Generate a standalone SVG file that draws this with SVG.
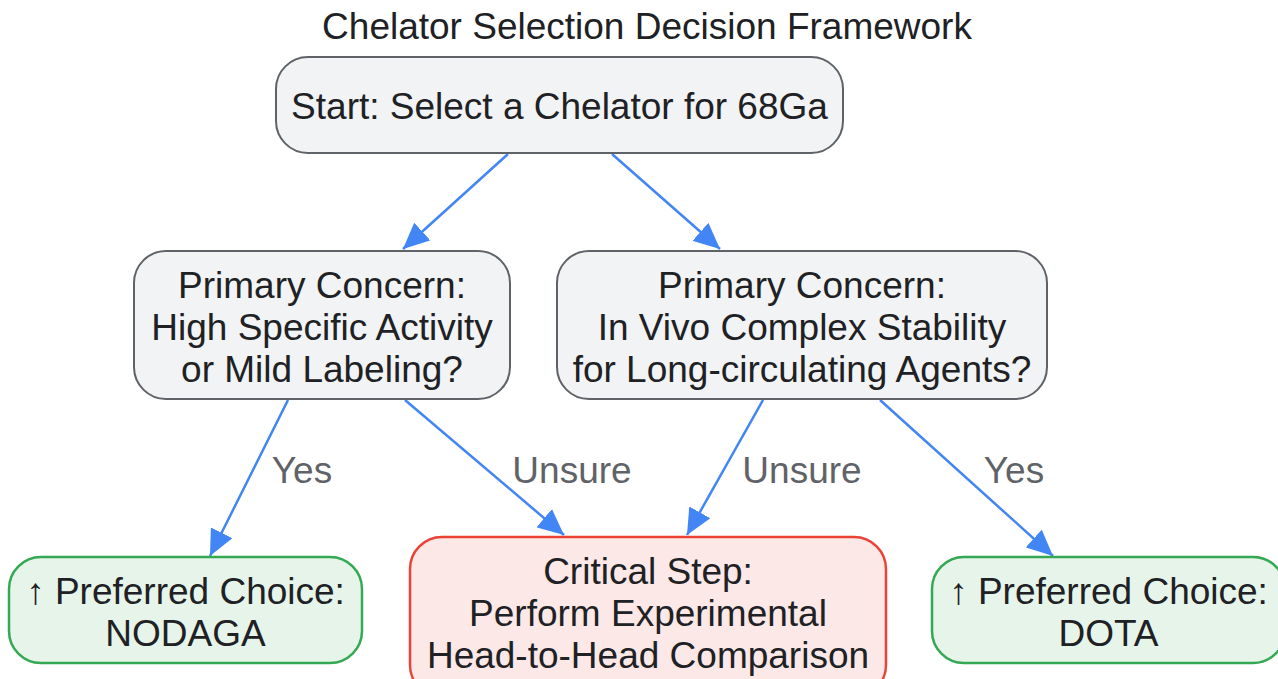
<svg xmlns="http://www.w3.org/2000/svg" width="1278" height="679" viewBox="0 0 1278 679">
<style>
text{font-family:"Liberation Sans",Arial,sans-serif;text-anchor:middle}
.t{font-size:37px;fill:#202124}
.ttl{font-size:37px;fill:#202124}
.lbl{font-size:37px;fill:#5f6368}
.n{fill:#f1f3f4;stroke:#5f6368;stroke-width:2}
.g{fill:#e6f4ea;stroke:#34a853;stroke-width:2.5}
.r{fill:#fce8e6;stroke:#ea4335;stroke-width:2.5}
.e{stroke:#4285f4;stroke-width:2.5;fill:none;marker-end:url(#ah)}
</style>
<defs>
<marker id="ah" markerUnits="userSpaceOnUse" markerWidth="28" markerHeight="24" refX="26" refY="12" orient="auto">
<path d="M0,0 L26,12 L0,24 Z" fill="#4285f4"/>
</marker>
</defs>
<rect width="1278" height="679" fill="#ffffff"/>
<text class="ttl" x="647" y="39">Chelator Selection Decision Framework</text>
<g id="edges">
<line class="e" x1="508" y1="154" x2="403" y2="249"/>
<line class="e" x1="612" y1="154" x2="720" y2="249"/>
<line class="e" x1="288" y1="400" x2="210" y2="556"/>
<line class="e" x1="405" y1="400" x2="564" y2="535"/>
<line class="e" x1="763" y1="400" x2="687" y2="535"/>
<line class="e" x1="880" y1="400" x2="1053" y2="556"/>
<text class="lbl" x="302" y="483">Yes</text>
<text class="lbl" x="572" y="483">Unsure</text>
<text class="lbl" x="802" y="483">Unsure</text>
<text class="lbl" x="1014" y="483">Yes</text>
</g>
<g id="start">
<rect class="n" x="276" y="57" width="567" height="96" rx="32"/>
<text class="t" x="559.5" y="119">Start: Select a Chelator for 68Ga</text>
</g>
<g id="q1">
<rect class="n" x="134" y="251" width="376" height="148" rx="32"/>
<text class="t" x="322" y="298">Primary Concern:</text>
<text class="t" x="322" y="340">High Specific Activity</text>
<text class="t" x="322" y="382">or Mild Labeling?</text>
</g>
<g id="q2">
<rect class="n" x="557" y="251" width="490" height="148" rx="32"/>
<text class="t" x="802" y="298">Primary Concern:</text>
<text class="t" x="802" y="340">In Vivo Complex Stability</text>
<text class="t" x="802" y="382">for Long-circulating Agents?</text>
</g>
<g id="nodaga">
<rect class="g" x="9" y="557" width="353" height="106" rx="32"/>
<text class="t" x="185.5" y="604">↑ Preferred Choice:</text>
<text class="t" x="185.5" y="646">NODAGA</text>
</g>
<g id="critical">
<rect class="r" x="410" y="537" width="476" height="160" rx="32"/>
<text class="t" x="648" y="584">Critical Step:</text>
<text class="t" x="648" y="626">Perform Experimental</text>
<text class="t" x="648" y="668">Head-to-Head Comparison</text>
</g>
<g id="dota">
<rect class="g" x="932" y="557" width="353" height="106" rx="32"/>
<text class="t" x="1108.5" y="604">↑ Preferred Choice:</text>
<text class="t" x="1108.5" y="646">DOTA</text>
</g>
</svg>
